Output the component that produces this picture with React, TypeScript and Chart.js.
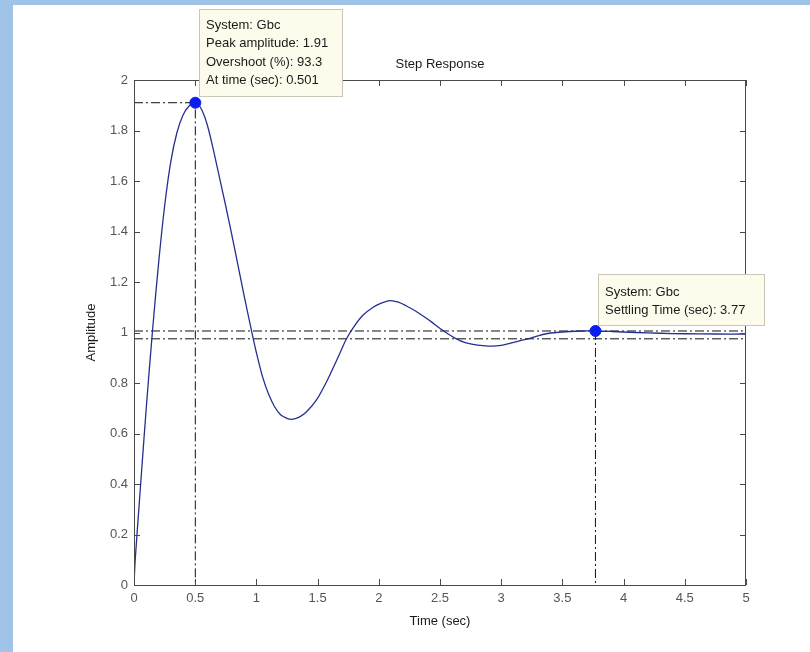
import React, { useEffect, useRef } from 'react';
import { Chart, registerables } from 'chart.js';
Chart.register(...registerables);

// ---- data ----
const times = [0, 0.01, 0.05, 0.1, 0.15, 0.2, 0.25, 0.3, 0.35, 0.4, 0.45, 0.501, 0.55, 0.6, 0.65, 0.7, 0.75, 0.8, 0.85, 0.9, 0.95, 1.0, 1.05, 1.1, 1.15, 1.2, 1.25, 1.287, 1.35, 1.41, 1.491, 1.573, 1.682, 1.736, 1.8, 1.87, 1.954, 2.02, 2.09, 2.16, 2.226, 2.3, 2.362, 2.43, 2.498, 2.57, 2.634, 2.7, 2.77, 2.85, 2.93, 3.0, 3.07, 3.15, 3.233, 3.3, 3.369, 3.45, 3.56, 3.66, 3.77, 3.9, 4.1, 4.3, 4.5, 4.75, 5.0];
const amplitudes = [0, 0.1, 0.37, 0.7, 1.0, 1.27, 1.5, 1.675, 1.79, 1.86, 1.897, 1.91, 1.885, 1.82, 1.72, 1.61, 1.5, 1.385, 1.265, 1.145, 1.03, 0.92, 0.825, 0.755, 0.705, 0.673, 0.66, 0.656, 0.665, 0.686, 0.733, 0.805, 0.918, 0.975, 1.025, 1.068, 1.1, 1.116, 1.126, 1.12, 1.105, 1.085, 1.065, 1.042, 1.017, 0.993, 0.975, 0.961, 0.953, 0.948, 0.946, 0.949, 0.957, 0.967, 0.977, 0.987, 0.995, 1.0, 1.004, 1.006, 1.006, 1.004, 1.0, 0.997, 0.995, 0.994, 0.994];

const xTickValues = [0, 0.5, 1, 1.5, 2, 2.5, 3, 3.5, 4, 4.5, 5];
const yTickValues = [0, 0.2, 0.4, 0.6, 0.8, 1, 1.2, 1.4, 1.6, 1.8, 2];

const peakTime = 0.501;
const peakAmplitude = 1.91;
const settlingTime = 3.77;
const settlingAmplitude = 1.006;
const bandUpper = 1.006;
const bandLower = 0.975;

const chartTitle = 'Step Response';
const xTitle = 'Time (sec)';
const yTitle = 'Amplitude';
const peakTipLines = ['System: Gbc', 'Peak amplitude: 1.91', 'Overshoot (%): 93.3', 'At time (sec): 0.501'];
const settleTipLines = ['System: Gbc', 'Settling Time (sec): 3.77'];

const FONT = '"Liberation Sans", Arial, Helvetica, sans-serif';
const BLUE_BG = '#9fc4e7';
const DASH_DOT = [9, 3, 2, 3];

const framePlugin = {
  id: 'matlabFrame',
  afterDraw(chart: any) {
    const { ctx, chartArea } = chart;
    const xs = chart.scales.x;
    const ys = chart.scales.y;
    const { left, right, top, bottom } = chartArea;
    ctx.save();
    // box
    ctx.strokeStyle = '#4a4a4a';
    ctx.lineWidth = 1;
    ctx.setLineDash([]);
    ctx.strokeRect(left + 0.5, top + 0.5, right - left - 1, bottom - top);
    // inward ticks
    const tl = 6;
    ctx.beginPath();
    xTickValues.forEach((v) => {
      const px = Math.round(xs.getPixelForValue(v)) + 0.5;
      ctx.moveTo(px, bottom);
      ctx.lineTo(px, bottom - tl);
      ctx.moveTo(px, top);
      ctx.lineTo(px, top + tl);
    });
    yTickValues.forEach((v) => {
      const py = Math.round(ys.getPixelForValue(v)) + 0.5;
      ctx.moveTo(left, py);
      ctx.lineTo(left + tl, py);
      ctx.moveTo(right, py);
      ctx.lineTo(right - tl, py);
    });
    ctx.stroke();

    // x tick labels
    ctx.fillStyle = '#555';
    ctx.font = `13px ${FONT}`;
    ctx.textAlign = 'center';
    ctx.textBaseline = 'middle';
    xTickValues.forEach((v) => {
      ctx.fillText(String(v), xs.getPixelForValue(v), bottom + 13);
    });

    // titles
    ctx.fillStyle = '#1a1a1a';
    ctx.font = `13px ${FONT}`;
    ctx.textAlign = 'center';
    ctx.textBaseline = 'middle';
    const cx = (left + right) / 2;
    ctx.fillText(chartTitle, cx, 64);
    ctx.fillText(xTitle, cx, 621);
    ctx.save();
    ctx.translate(91, (top + bottom) / 2);
    ctx.rotate(-Math.PI / 2);
    ctx.fillText(yTitle, 0, 0);
    ctx.restore();

    // data tips
    const drawTip = (x0: number, y0: number, w: number, h: number, lines: string[], firstY: number) => {
      ctx.fillStyle = '#fdfbec';
      ctx.fillRect(x0, y0, w, h);
      ctx.strokeStyle = '#c9c6b5';
      ctx.lineWidth = 1;
      ctx.strokeRect(x0 + 0.5, y0 + 0.5, w, h);
      ctx.fillStyle = '#1a1a1a';
      ctx.font = `13px ${FONT}`;
      ctx.textAlign = 'left';
      ctx.textBaseline = 'middle';
      lines.forEach((s, i) => ctx.fillText(s, x0 + 7, y0 + firstY + i * 18.5));
    };
    const ppx = xs.getPixelForValue(peakTime);
    const ppy = ys.getPixelForValue(peakAmplitude);
    drawTip(Math.round(ppx + 4), Math.round(ppy - 94), 143, 87, peakTipLines, 16);
    const spx = xs.getPixelForValue(settlingTime);
    const spy = ys.getPixelForValue(settlingAmplitude);
    drawTip(Math.round(spx + 3), Math.round(spy - 57), 166, 51, settleTipLines, 18);
    ctx.restore();
  },
};

export default function App() {
  const ref = useRef<HTMLCanvasElement>(null);
  useEffect(() => {
    const curve = times.map((t, i) => ({ x: t, y: amplitudes[i] }));
    const refLine = (pts: { x: number; y: number }[], order: number) => ({
      type: 'line' as const,
      data: pts,
      borderColor: '#111',
      borderWidth: 1,
      borderDash: DASH_DOT,
      pointRadius: 0,
      fill: false,
      tension: 0,
      order,
    });
    const chart = new Chart(ref.current as HTMLCanvasElement, {
      type: 'line',
      data: {
        datasets: [
          {
            type: 'line',
            data: [
              { x: peakTime, y: peakAmplitude },
              { x: settlingTime, y: settlingAmplitude },
            ],
            showLine: false,
            pointRadius: 5.5,
            pointBackgroundColor: '#0a1ef2',
            pointBorderColor: '#0a1ef2',
            order: 0,
          } as any,
          {
            type: 'line',
            data: curve,
            borderColor: '#25308f',
            borderWidth: 1.3,
            pointRadius: 0,
            fill: false,
            tension: 0.3,
            order: 1,
          } as any,
          refLine([{ x: 0, y: bandUpper }, { x: 5, y: bandUpper }], 2),
          refLine([{ x: 0, y: bandLower }, { x: 5, y: bandLower }], 3),
          refLine([{ x: 0, y: peakAmplitude }, { x: peakTime, y: peakAmplitude }, { x: peakTime, y: 0 }], 4),
          refLine([{ x: settlingTime, y: settlingAmplitude }, { x: settlingTime, y: 0 }], 5),
        ],
      },
      options: {
        animation: false,
        responsive: false,
        devicePixelRatio: 1,
        layout: { padding: { left: 0, top: 80, right: 64, bottom: 67 } },
        plugins: { legend: { display: false }, tooltip: { enabled: false }, title: { display: false } },
        scales: {
          x: {
            type: 'linear',
            min: 0,
            max: 5,
            afterBuildTicks: (s: any) => {
              s.ticks = xTickValues.map((v) => ({ value: v }));
            },
            afterFit: (s: any) => {
              s.height = 0;
            },
            ticks: { display: false },
            grid: { display: false, drawTicks: false },
            border: { display: false },
          },
          y: {
            type: 'linear',
            min: 0,
            max: 2,
            afterBuildTicks: (s: any) => {
              s.ticks = yTickValues.map((v) => ({ value: v }));
            },
            afterFit: (s: any) => {
              s.width = 134;
            },
            ticks: {
              callback: (v: any) => String(v),
              font: { family: FONT, size: 13 },
              color: '#555',
              padding: 6,
              autoSkip: false,
            },
            grid: { display: false, drawTicks: false },
            border: { display: false },
          },
        },
      } as any,
      plugins: [framePlugin],
    });
    return () => chart.destroy();
  }, []);

  return (
    <div style={{ position: 'fixed', left: 0, top: 0, width: 810, height: 652, background: '#fff', overflow: 'hidden' }}>
      <div style={{ position: 'absolute', left: 0, top: 0, width: 810, height: 5, background: BLUE_BG }} />
      <div style={{ position: 'absolute', left: 0, top: 0, width: 13, height: 652, background: BLUE_BG }} />
      <canvas ref={ref} width={810} height={652} style={{ position: 'absolute', left: 0, top: 0, width: 810, height: 652 }} />
    </div>
  );
}
